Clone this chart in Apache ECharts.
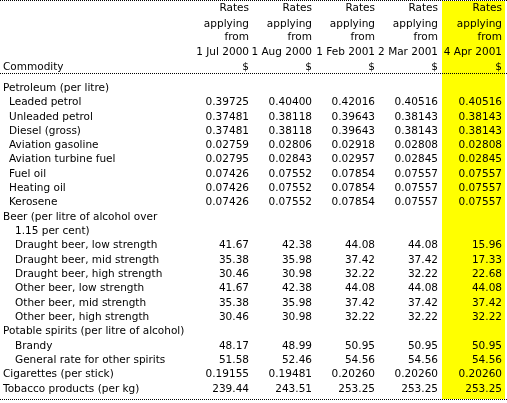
<!DOCTYPE html>
<html><head><meta charset="utf-8">
<script src="https://cdn.jsdelivr.net/npm/echarts@6/dist/echarts.min.js"></script>
<style>html,body{margin:0;padding:0;background:#fff}#c{width:507px;height:403px}</style>
</head><body><div id="c"></div>
<script>
const headers = ["1 Jul 2000","1 Aug 2000","1 Feb 2001","2 Mar 2001","4 Apr 2001"];
const commodities = ["Petroleum (per litre)","Leaded petrol","Unleaded petrol","Diesel (gross)","Aviation gasoline","Aviation turbine fuel","Fuel oil","Heating oil","Kerosene","Beer (per litre of alcohol over","1.15 per cent)","Draught beer, low strength","Draught beer, mid strength","Draught beer, high strength","Other beer, low strength","Other beer, mid strength","Other beer, high strength","Potable spirits (per litre of alcohol)","Brandy","General rate for other spirits","Cigarettes (per stick)","Tobacco products (per kg)"];
const indent = [0,1,1,1,1,1,1,1,1,0,2,2,2,2,2,2,2,0,2,2,0,0];
const col1 = ["","0.39725","0.37481","0.37481","0.02759","0.02795","0.07426","0.07426","0.07426","","","41.67","35.38","30.46","41.67","35.38","30.46","","48.17","51.58","0.19155","239.44"];
const col2 = ["","0.40400","0.38118","0.38118","0.02806","0.02843","0.07552","0.07552","0.07552","","","42.38","35.98","30.98","42.38","35.98","30.98","","48.99","52.46","0.19481","243.51"];
const col3 = ["","0.42016","0.39643","0.39643","0.02918","0.02957","0.07854","0.07854","0.07854","","","44.08","37.42","32.22","44.08","37.42","32.22","","50.95","54.56","0.20260","253.25"];
const col4 = ["","0.40516","0.38143","0.38143","0.02808","0.02845","0.07557","0.07557","0.07557","","","44.08","37.42","32.22","44.08","37.42","32.22","","50.95","54.56","0.20260","253.25"];
const col5 = ["","0.40516","0.38143","0.38143","0.02808","0.02845","0.07557","0.07557","0.07557","","","15.96","17.33","22.68","44.08","37.42","32.22","","50.95","54.56","0.20260","253.25"];
const cols = [col1,col2,col3,col4,col5];

const colRight = [249,312,375,438,502];
const indentPx = [3,9,15];
const FONT = '11px "DejaVu Sans Condensed", "DejaVu Sans", sans-serif';
const FONT2 = '10.5px "DejaVu Sans", sans-serif';

const data = [];
commodities.forEach((c,i)=>{
  data.push([indentPx[indent[i]], i, c, 'left']);
  cols.forEach((col,j)=>{ if(col[i]) data.push([colRight[j], i, col[i], 'right']); });
});

const graphics = [
  {type:'rect', shape:{x:442,y:1,width:63,height:398}, style:{fill:'#ffff00'}, z:-1},
  {type:'line', shape:{x1:0,y1:0.5,x2:507,y2:0.5}, style:{stroke:'#000',lineDash:[1,1]}},
  {type:'line', shape:{x1:0,y1:73.5,x2:507,y2:73.5}, style:{stroke:'#000',lineDash:[1,1]}},
  {type:'line', shape:{x1:0,y1:399.5,x2:507,y2:399.5}, style:{stroke:'#000',lineDash:[1,1]}},
  {type:'text', x:3, y:67, style:{text:'Commodity', font:FONT2, fill:'#000', textVerticalAlign:'middle'}}
];
headers.forEach((h,j)=>{
  [['Rates',8],['applying',24],['from',37],[h,52],['$',67]].forEach(([t,y])=>{
    graphics.push({type:'text', x:colRight[j], y:y, style:{text:t, font:FONT2, fill:'#000', textAlign:'right', textVerticalAlign:'middle'}});
  });
});

const chart = echarts.init(document.getElementById('c'));
chart.setOption({
  animation:false,
  grid:{left:0,right:0,top:81,bottom:7},
  xAxis:{type:'value',min:0,max:507,show:false},
  yAxis:{type:'category',inverse:true,data:commodities.map((_,i)=>i),show:false},
  graphic:graphics,
  series:[{
    type:'custom',
    data:data,
    renderItem:(params,api)=>{
      const p = api.coord([api.value(0), api.value(1)]);
      const d = data[params.dataIndex];
      return {type:'text', x:p[0], y:p[1], style:{text:d[2], font:FONT2, fill:'#000', textAlign:d[3], textVerticalAlign:'middle'}};
    }
  }]
});
</script></body></html>
